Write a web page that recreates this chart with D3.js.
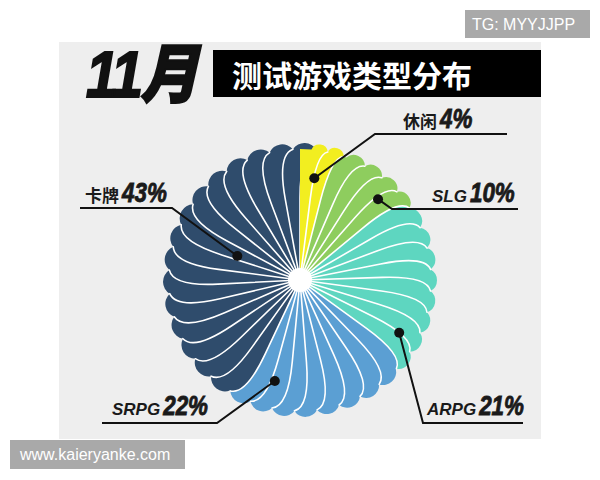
<!DOCTYPE html>
<html>
<head>
<meta charset="utf-8">
<script src="https://cdn.jsdelivr.net/npm/d3@7"></script>
<style>
  body { margin: 0; background: #fff; }
  svg { display: block; }
</style>
</head>
<body>
<div id="chart"></div>
<script>
// data
const categories = ['休闲', 'SLG', 'ARPG', 'SRPG', '卡牌'];
const values = [4, 10, 21, 22, 43];
const percentLabels = ['4%', '10%', '21%', '22%', '43%'];
const colors = ['#f2ee20', '#8ecd5e', '#5ed6c0', '#5b9fd3', '#2f4c6c'];

// where each callout sits (angle in degrees inside its slice, elbow, end of rule, text)
const callouts = [
    {angle: 8, rad: 0.75, elbow: [375, 134], endX: 507, textX: 403, textY: 128},
    {angle: 44, rad: 0.82, elbow: [392, 209], endX: 518, textX: 432, textY: 202},
    {angle: 118, rad: 0.82, elbow: [423, 423], endX: 523, textX: 427, textY: 415},
    {angle: 194, rad: 0.76, elbow: [217, 423], endX: 102, textX: 112, textY: 415},
    {angle: 291, rad: 0.49, elbow: [172, 208], endX: 80, textX: 85, textY: 202}
];

const width = 600, height = 480;
const cx = 300, cy = 280, R = 137;
const petalTotal = 36;

const svg = d3.select('#chart').append('svg')
    .attr('width', width)
    .attr('height', height);

// grey panel behind everything
svg.append('rect')
    .attr('x', 59).attr('y', 42)
    .attr('width', 482).attr('height', 397)
    .attr('fill', '#eeeeee');

// title
svg.append('rect')
    .attr('x', 213).attr('y', 50)
    .attr('width', 328).attr('height', 47)
    .attr('fill', '#000');

svg.append('text')
    .attr('transform', 'translate(86,97) scale(0.9,1)')
    .text('11月')
    .style('font-family', "'Liberation Sans', 'Noto Sans CJK SC', sans-serif")
    .style('font-weight', 900)
    .style('font-style', 'italic')
    .style('font-size', '64px')
    .style('letter-spacing', '-3px')
    .style('fill', '#111')
    .style('stroke', '#111')
    .style('stroke-width', 2);

svg.append('text')
    .attr('x', 232).attr('y', 87)
    .text('测试游戏类型分布')
    .style('font-family', "'Noto Sans CJK SC', sans-serif")
    .style('font-weight', 700)
    .style('font-size', '30px')
    .style('fill', '#fff');

// pie slices -> petals
const pie = d3.pie().sort(null).value(d => d)
    .startAngle(0).endAngle(2 * Math.PI);
const slices = pie(values);

function polar(a, r) {
    return [r * Math.sin(a), -r * Math.cos(a)];
}

const petals = [];
slices.forEach((s, i) => {
    const n = Math.max(2, Math.round(s.value / 100 * petalTotal));
    const w = (s.endAngle - s.startAngle) / n;
    for (let j = 0; j < n; j++) {
        petals.push({a0: s.startAngle + j * w, a1: s.startAngle + (j + 1) * w, color: colors[i]});
    }
});

const g = svg.append('g').attr('transform', `translate(${cx},${cy})`);

function petalEdge(p) {
    const w = p.a1 - p.a0;
    const f = w * 0.7;
    const rs = R * 0.6, rn = R - 6;
    const A = polar(p.a1, rs), C1 = polar(p.a1, rn * 0.97), B = polar(p.a1 + f, rn);
    return {A, C1, B, w, f, rn};
}

function petalPath(p) {
    const e = petalEdge(p);
    const D = polar(p.a0 + e.f, e.rn);
    const E = polar(p.a0, e.rn);
    const c = 2 * e.rn * Math.sin(e.w / 2);
    const s = R - e.rn * Math.cos(e.w / 2);
    const rr = (c * c / 4 + s * s) / (2 * s);
    return `M0,0L${e.A}Q${e.C1} ${e.B}A${rr},${rr} 0 0 0 ${D}L${E}Z`;
}

function linePath(p) {
    const e = petalEdge(p);
    const start = polar(p.a1, 10);
    return `M${start}L${e.A}Q${e.C1} ${e.B}`;
}

// counter-clockwise petal sits on top, so draw from the last one back
for (let k = petals.length - 1; k >= 0; k--) {
    const p = petals[k];
    g.append('path')
        .attr('d', petalPath(p))
        .attr('fill', p.color);
    g.append('path')
        .attr('d', linePath(p))
        .attr('fill', 'none')
        .attr('stroke', '#fff')
        .attr('stroke-width', 1.6)
        .attr('stroke-linecap', 'round');
}

g.append('circle').attr('r', 12).attr('fill', '#fff');

// callouts
callouts.forEach((c, i) => {
    const pt = polar(c.angle * Math.PI / 180, c.rad * R);
    const dx = cx + pt[0], dy = cy + pt[1];

    svg.append('path')
        .attr('d', `M${dx},${dy}L${c.elbow[0]},${c.elbow[1]}L${c.endX},${c.elbow[1]}`)
        .attr('fill', 'none')
        .attr('stroke', '#111')
        .attr('stroke-width', 2);

    svg.append('circle')
        .attr('cx', dx).attr('cy', dy)
        .attr('r', 5)
        .attr('fill', '#111');

    const isLatin = /^[A-Z]/.test(categories[i]);
    const name = svg.append('text')
        .attr('x', c.textX).attr('y', c.textY)
        .text(categories[i])
        .style('font-family', isLatin ? "'Liberation Sans', sans-serif" : "'Noto Sans CJK SC', sans-serif")
        .style('font-weight', 700)
        .style('font-style', isLatin ? 'italic' : 'normal')
        .style('font-size', '17px')
        .style('fill', '#1a1a1a');
    const nameW = name.node().getComputedTextLength();

    // the numbers are a squeezed heavy italic
    svg.append('text')
        .attr('transform', `translate(${c.textX + nameW + 3},${c.textY}) scale(0.8,1)`)
        .text(percentLabels[i])
        .style('font-family', "'Liberation Sans', sans-serif")
        .style('font-weight', 700)
        .style('font-style', 'italic')
        .style('font-size', '28px')
        .style('fill', '#1a1a1a')
        .style('stroke', '#1a1a1a')
        .style('stroke-width', 0.9);
});

// watermark boxes
svg.append('rect')
    .attr('x', 465).attr('y', 10)
    .attr('width', 125).attr('height', 28)
    .attr('fill', '#a9a9a9');
svg.append('text')
    .attr('x', 472).attr('y', 30)
    .text('TG: MYYJJPP')
    .style('font-family', "'Liberation Sans', sans-serif")
    .style('font-size', '16px')
    .style('fill', '#fff');

svg.append('rect')
    .attr('x', 10).attr('y', 440)
    .attr('width', 175).attr('height', 29)
    .attr('fill', '#a9a9a9');
svg.append('text')
    .attr('x', 20).attr('y', 460)
    .text('www.kaieryanke.com')
    .style('font-family', "'Liberation Sans', sans-serif")
    .style('font-size', '16px')
    .style('fill', '#fff');
</script>
</body>
</html>
